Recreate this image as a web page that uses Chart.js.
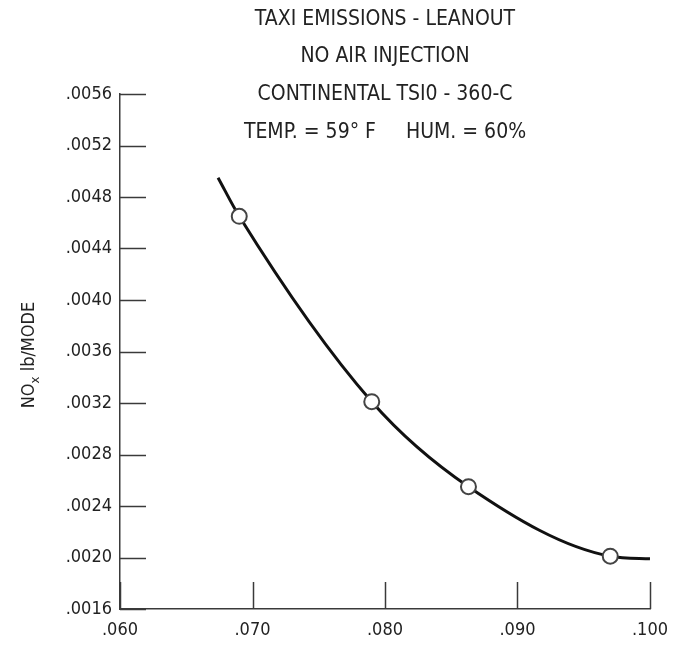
<!DOCTYPE html>
<html>
<head>
<meta charset="utf-8">
<script src="https://cdn.jsdelivr.net/npm/chart.js@4.4.1/dist/chart.umd.min.js"></script>
<style>
  html, body { margin: 0; padding: 0; background: #ffffff; }
  #wrap { width: 673px; height: 646px; position: relative; }
</style>
</head>
<body>
<div id="wrap"><canvas id="c" width="673" height="646"></canvas></div>
<script>
// ---- Data ----
const titleLines = [
  'TAXI EMISSIONS - LEANOUT',
  'NO AIR INJECTION',
  'CONTINENTAL TSI0 - 360-C',
  'TEMP. = 59\u00B0 F     HUM. = 60%'
];
const yAxisTitleMain = 'NO';
const yAxisTitleSub = 'x';
const yAxisTitleRest = ' lb/MODE';

const xTickValues = [0.060, 0.070, 0.080, 0.090, 0.100];
const xTickLabels = ['.060', '.070', '.080', '.090', '.100'];
const yTickValues = [0.0016, 0.0020, 0.0024, 0.0028, 0.0032, 0.0036, 0.0040, 0.0044, 0.0048, 0.0052, 0.0056];
const yTickLabels = ['.0016', '.0020', '.0024', '.0028', '.0032', '.0036', '.0040', '.0044', '.0048', '.0052', '.0056'];

// measured points (open circles)
const measuredX = [0.0690, 0.0790, 0.0863, 0.0970];
const measuredY = [0.00465, 0.00321, 0.00255, 0.00201];

// faired curve (start, through the circles, end)
const curveX = [0.0674, 0.0690, 0.0790, 0.0863, 0.0970, 0.1000];
const curveY = [0.00495, 0.00465, 0.00321, 0.00255, 0.00201, 0.00199];

// ---- Styling ----
const FONT = "'Liberation Sans Narrow', 'DejaVu Sans Condensed', 'Arial Narrow', sans-serif";
const INK = '#222222';
const AXIS = '#3a3a3a';

const toPts = (xs, ys) => xs.map((x, i) => ({ x: x, y: ys[i] }));

const decorPlugin = {
  id: 'decor',
  beforeDatasetsDraw(chart) {
    const ctx = chart.ctx;
    const xs = chart.scales.x, ys = chart.scales.y;
    const area = chart.chartArea;
    ctx.save();
    ctx.strokeStyle = AXIS;
    ctx.lineWidth = 1.5;
    yTickValues.forEach(v => {
      const p = Math.round(ys.getPixelForValue(v)) + 0.5;
      ctx.beginPath();
      ctx.moveTo(area.left, p);
      ctx.lineTo(area.left + 26, p);
      ctx.stroke();
    });
    xTickValues.forEach(v => {
      const p = Math.round(xs.getPixelForValue(v)) + 0.5;
      ctx.beginPath();
      ctx.moveTo(p, area.bottom);
      ctx.lineTo(p, area.bottom - 27);
      ctx.stroke();
    });
    ctx.restore();
  },
  afterDraw(chart) {
    const ctx = chart.ctx;
    const area = chart.chartArea;
    ctx.save();
    ctx.fillStyle = INK;
    ctx.textAlign = 'center';
    ctx.textBaseline = 'middle';
    ctx.font = '21px ' + FONT;
    const cx = (area.left + area.right) / 2;
    const ys = [20, 57, 95, 133];
    titleLines.forEach((t, i) => ctx.fillText(t, cx, ys[i]));

    ctx.translate(28, 355);
    ctx.rotate(-Math.PI / 2);
    ctx.textBaseline = 'alphabetic';
    ctx.textAlign = 'left';
    ctx.font = '18px ' + FONT;
    const wMain = ctx.measureText(yAxisTitleMain).width;
    ctx.font = '13px ' + FONT;
    const wSub = ctx.measureText(yAxisTitleSub).width;
    ctx.font = '18px ' + FONT;
    const wRest = ctx.measureText(yAxisTitleRest).width;
    let x0 = -(wMain + wSub + wRest) / 2;
    const base = 6;
    ctx.fillText(yAxisTitleMain, x0, base);
    ctx.font = '13px ' + FONT;
    ctx.fillText(yAxisTitleSub, x0 + wMain, base + 5);
    ctx.font = '18px ' + FONT;
    ctx.fillText(yAxisTitleRest, x0 + wMain + wSub, base);
    ctx.restore();
  }
};

new Chart(document.getElementById('c'), {
  type: 'scatter',
  data: {
    datasets: [
      {
        label: 'curve',
        data: toPts(curveX, curveY),
        showLine: true,
        borderColor: '#111111',
        borderWidth: 3,
        pointRadius: 0,
        cubicInterpolationMode: 'monotone',
        fill: false,
        order: 2
      },
      {
        label: 'measured',
        data: toPts(measuredX, measuredY),
        showLine: false,
        pointRadius: 7.5,
        pointBorderWidth: 2,
        pointBackgroundColor: '#ffffff',
        pointBorderColor: '#444444',
        order: 1
      }
    ]
  },
  options: {
    responsive: false,
    animation: false,
    devicePixelRatio: 1,
    layout: { padding: { top: 94, right: 23, left: 0, bottom: 0 } },
    plugins: {
      legend: { display: false },
      tooltip: { enabled: false },
      title: { display: false }
    },
    scales: {
      x: {
        type: 'linear',
        min: 0.060,
        max: 0.100,
        afterBuildTicks: (s) => { s.ticks = xTickValues.map(v => ({ value: v })); },
        afterFit: (s) => { s.height = 37; s.paddingLeft = 0; s.paddingRight = 0; },
        grid: { display: false, drawTicks: false },
        border: { display: true, color: AXIS, width: 1.5 },
        ticks: {
          padding: 11,
          color: INK,
          font: { family: FONT, size: 18 },
          maxRotation: 0,
          autoSkip: false,
          callback: (v, i) => xTickLabels[i]
        }
      },
      y: {
        type: 'linear',
        min: 0.0016,
        max: 0.0056,
        afterBuildTicks: (s) => { s.ticks = yTickValues.map(v => ({ value: v })); },
        afterFit: (s) => { s.width = 120; s.paddingTop = 0; s.paddingBottom = 0; },
        grid: { display: false, drawTicks: false },
        border: { display: true, color: AXIS, width: 1.5 },
        ticks: {
          padding: 8,
          color: INK,
          font: { family: FONT, size: 18 },
          autoSkip: false,
          callback: (v, i) => yTickLabels[i]
        }
      }
    }
  },
  plugins: [decorPlugin]
});
</script>
</body>
</html>
